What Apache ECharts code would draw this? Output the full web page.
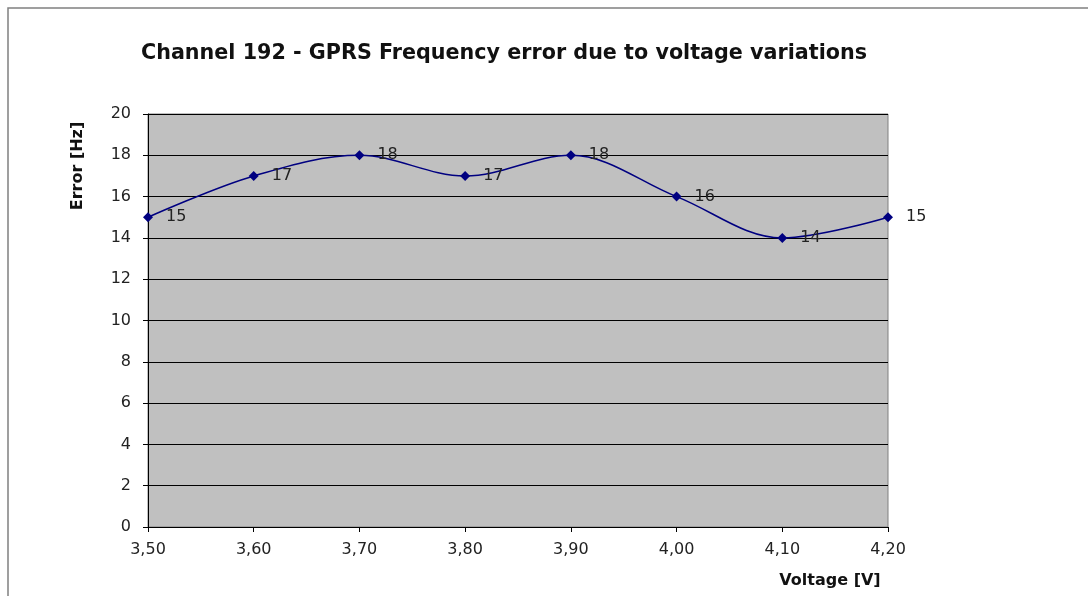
<!DOCTYPE html>
<html>
<head>
<meta charset="utf-8">
<script src="https://cdn.jsdelivr.net/npm/echarts@6/dist/echarts.min.js"></script>
<style>
  html, body { margin: 0; padding: 0; background: #fff; }
  #chart { width: 1088px; height: 596px; }
</style>
</head>
<body>
<div id="chart"></div>
<script>
// values
const voltages = ['3,50', '3,60', '3,70', '3,80', '3,90', '4,00', '4,10', '4,20'];
const errors = [15, 17, 18, 17, 18, 16, 14, 15];

const chart = echarts.init(document.getElementById('chart'));
// the reference text is slightly wide, DejaVu Sans is close to it
const font = '"DejaVu Sans", Verdana, sans-serif';

chart.setOption({
    animation: false,
    title: {
        text: 'Channel 192 - GPRS Frequency error due to voltage variations',
        left: 499,
        top: 38,
        textAlign: 'center',
        textStyle: { fontFamily: font, fontSize: 20.7, fontWeight: 'bold', color: '#111' }
    },
    grid: {
        left: 148, right: 200, top: 114, bottom: 69,
        show: true,
        backgroundColor: '#c0c0c0',
        borderColor: '#808080',
        borderWidth: 1
    },
    xAxis: {
        type: 'category',
        data: voltages,
        boundaryGap: false,
        axisLine: { lineStyle: { color: '#000', width: 1 } },
        axisTick: { show: true, length: 5, lineStyle: { color: '#000' } },
        axisLabel: { fontFamily: font, fontSize: 16, color: '#222', margin: 15 },
        splitLine: { show: false }
    },
    yAxis: {
        type: 'value',
        min: 0, max: 20, interval: 2,
        axisLine: { show: true, lineStyle: { color: '#000', width: 1 } },
        axisTick: { show: true, length: 5, lineStyle: { color: '#000' } },
        axisLabel: { fontFamily: font, fontSize: 16, color: '#222', margin: 17 },
        splitLine: { show: true, lineStyle: { color: '#000', width: 1 } }
    },
    series: [{
        type: 'line',
        data: errors,
        smooth: 0.35,
        symbol: 'diamond',
        symbolSize: 10,
        itemStyle: { color: '#000080' },
        lineStyle: { color: '#000080', width: 1.5 },
        label: {
            show: true,
            position: 'right',
            distance: 13,
            fontFamily: font,
            fontSize: 16,
            color: '#222'
        }
    }],
    graphic: [
        // outer chart frame (left + top edges visible)
        {
            type: 'polyline',
            shape: { points: [[8, 600], [8, 8], [1095, 8]] },
            style: { stroke: '#808080', lineWidth: 1.5, fill: null }
        },
        {
            type: 'text',
            x: 78, y: 166,
            rotation: Math.PI / 2,
            style: {
                text: 'Error [Hz]',
                font: 'bold 16px ' + font,
                fill: '#111',
                textAlign: 'center',
                textVerticalAlign: 'middle'
            }
        },
        {
            type: 'text',
            x: 830, y: 581,
            style: {
                text: 'Voltage [V]',
                font: 'bold 16px ' + font,
                fill: '#111',
                textAlign: 'center',
                textVerticalAlign: 'middle'
            }
        }
    ]
});
</script>
</body>
</html>
